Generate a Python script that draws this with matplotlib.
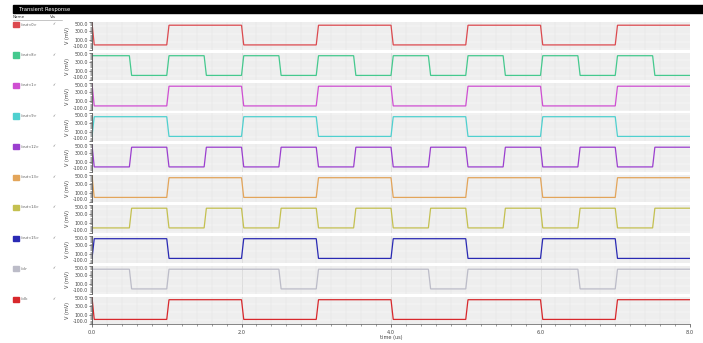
import matplotlib
matplotlib.use("Agg")
import matplotlib.pyplot as plt
from matplotlib.patches import Rectangle
from matplotlib.ticker import MultipleLocator, FixedLocator
import numpy as np

# ---------------- data ----------------
signal_names = ["/out<0>", "/out<8>", "/out<1>", "/out<9>", "/out<12>",
                "/out<13>", "/out<14>", "/out<15>", "/clr", "/clk"]
signal_colors = ["#dc4a4f", "#45c98e", "#cf4fd2", "#4fd0cf", "#9b3fcf",
                 "#e3a55a", "#c4c050", "#2a2ab4", "#bcbcc8", "#d8282c"]
# start of each 0.5 us segment
segment_start_us = [0.0, 0.5, 1.0, 1.5, 2.0, 2.5, 3.0, 3.5,
                    4.0, 4.5, 5.0, 5.5, 6.0, 6.5, 7.0, 7.5]
stop_time_us = 8.0
# logic state in each segment
signal_states = [
    [0, 0, 1, 1, 0, 0, 1, 1, 0, 0, 1, 1, 0, 0, 1, 1],
    [1, 0, 1, 0, 1, 0, 1, 0, 1, 0, 1, 0, 1, 0, 1, 0],
    [0, 0, 1, 1, 0, 0, 1, 1, 0, 0, 1, 1, 0, 0, 1, 1],
    [1, 1, 0, 0, 1, 1, 0, 0, 1, 1, 0, 0, 1, 1, 0, 0],
    [0, 1, 0, 1, 0, 1, 0, 1, 0, 1, 0, 1, 0, 1, 0, 1],
    [0, 0, 1, 1, 0, 0, 1, 1, 0, 0, 1, 1, 0, 0, 1, 1],
    [0, 1, 0, 1, 0, 1, 0, 1, 0, 1, 0, 1, 0, 1, 0, 1],
    [1, 1, 0, 0, 1, 1, 0, 0, 1, 1, 0, 0, 1, 1, 0, 0],
    [1, 0, 1, 1, 1, 0, 1, 1, 1, 0, 1, 1, 1, 0, 1, 1],
    [0, 0, 1, 1, 0, 0, 1, 1, 0, 0, 1, 1, 0, 0, 1, 1],
]
# value at t = 0 (mV)
start_mv = [480, 430, 480, 0, 480, 480, 0, 0, 430, 480]
low_mv = 0
high_mv = 430
y_ticks_mv = [-100, 100, 300, 500]
x_ticks_us = [0.0, 2.0, 4.0, 6.0, 8.0]
edge_time_us = 0.03

# ---------------- figure ----------------
W, H = 703, 343
fig = plt.figure(figsize=(W / 100, H / 100), dpi=100)
fig.patch.set_facecolor("white")


def fx(px):
    return px / W


def fy(py):
    return 1 - py / H


# title bar
fig.patches.append(Rectangle((fx(13), fy(13)), fx(703) - fx(13), fy(5) - fy(13),
                             transform=fig.transFigure, color="black", zorder=0))
fig.text(fx(19), fy(9), "Transient Response", color="white", fontsize=3.8,
         va="center", ha="left")
fig.text(fx(13), fy(17), "Name", fontsize=3.0, va="center", color="#333333")
fig.text(fx(50), fy(17), "Vis", fontsize=3.0, va="center", color="#333333")
fig.add_artist(plt.Line2D([fx(13), fx(62)], [fy(19.5), fy(19.5)],
                          transform=fig.transFigure, color="#999999", lw=0.4))

plot_left, plot_right = 92, 690
first_top = 22
pitch = 30.5
panel_h = 27.5

for i in range(len(signal_names)):
    top = first_top + i * pitch
    ax = fig.add_axes([fx(plot_left), fy(top + panel_h), fx(plot_right) - fx(plot_left),
                       panel_h / H])
    ax.set_facecolor("#f4f4f4")
    # waveform
    t = [0.0]
    v = [start_mv[i]]
    states = signal_states[i]
    for k, s0 in enumerate(segment_start_us):
        level = high_mv if states[k] else low_mv
        t.append(s0 + edge_time_us)
        v.append(level)
        end = segment_start_us[k + 1] if k + 1 < len(segment_start_us) else stop_time_us
        t.append(end)
        v.append(level)
    ax.plot(t, v, color=signal_colors[i], lw=0.9, solid_joinstyle="miter")
    ax.set_xlim(0, stop_time_us)
    ax.set_ylim(y_ticks_mv[0], y_ticks_mv[-1])
    ax.yaxis.set_major_locator(FixedLocator(y_ticks_mv))
    ax.set_yticklabels(["%.1f" % y for y in y_ticks_mv])
    ax.yaxis.set_minor_locator(MultipleLocator(25))
    ax.xaxis.set_major_locator(FixedLocator(x_ticks_us))
    ax.xaxis.set_minor_locator(MultipleLocator(0.2))
    ax.grid(True, which="major", axis="x", color="#cfcfcf", lw=0.5)
    ax.grid(True, which="minor", axis="x", color="#e4e4e4", lw=0.35)
    ax.grid(True, which="minor", axis="y", color="#e6e6e6", lw=0.3)
    ax.grid(True, which="major", axis="y", color="#e6e6e6", lw=0.3)
    ax.set_axisbelow(True)
    for sp in ["top", "right", "bottom"]:
        ax.spines[sp].set_visible(False)
    ax.spines["left"].set_color("#555555")
    ax.spines["left"].set_linewidth(0.6)
    ax.tick_params(axis="y", which="major", labelsize=3.4, length=2, width=0.5,
                   pad=1, colors="#444444")
    ax.tick_params(axis="y", which="minor", length=1.2, width=0.4, colors="#555555")
    ylabs = ax.get_yticklabels()
    ylabs[0].set_verticalalignment("bottom")
    ylabs[-1].set_verticalalignment("top")
    ax.set_ylabel("V (mV)", fontsize=3.6, labelpad=2, color="#444444")
    if i < len(signal_names) - 1:
        ax.tick_params(axis="x", which="both", length=0, labelbottom=False)
    else:
        ax.spines["bottom"].set_visible(True)
        ax.spines["bottom"].set_color("#555555")
        ax.spines["bottom"].set_linewidth(0.5)
        ax.set_xticklabels(["%.1f" % x for x in x_ticks_us])
        ax.tick_params(axis="x", which="major", labelsize=3.6, length=2, width=0.5,
                       pad=2, colors="#444444")
        ax.tick_params(axis="x", which="minor", length=1.2, width=0.4, colors="#555555")
        ax.set_xlabel("time (us)", fontsize=3.6, labelpad=0.5, color="#444444")

    # legend entry on the left
    ly = top + 2.5
    fig.patches.append(Rectangle((fx(13), fy(ly + 2.5)), fx(6), 5 / H,
                                 transform=fig.transFigure, color=signal_colors[i]))
    fig.text(fx(21), fy(ly), signal_names[i], fontsize=2.6, va="center", color="#555555")
    fig.text(fx(52), fy(ly), "\u2713", fontsize=2.6, va="center", color="#666666")

fig.savefig("out.png", dpi=100, facecolor="white")
